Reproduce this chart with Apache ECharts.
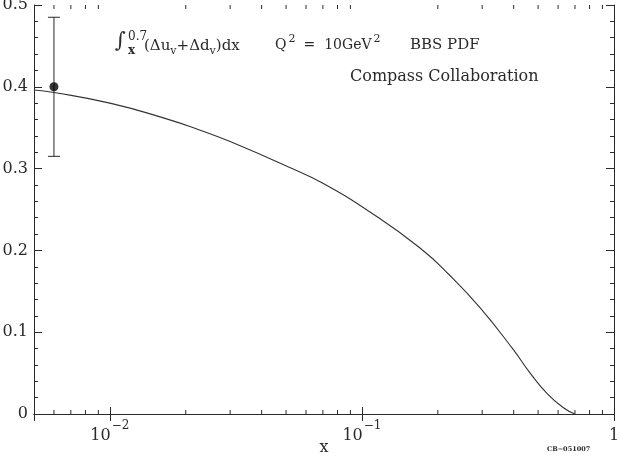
<!DOCTYPE html>
<html>
<head>
<meta charset="utf-8">
<script src="https://cdn.jsdelivr.net/npm/echarts@6/dist/echarts.min.js"></script>
<style>html,body{margin:0;padding:0;background:#fff}#c{width:619px;height:457px}</style>
</head>
<body>
<div id="c"></div>
<script>
// ---- data ----
const curveX = [0.005, 0.006, 0.01, 0.0163, 0.0228, 0.030, 0.052, 0.070, 0.1076, 0.170, 0.224, 0.294, 0.398, 0.465, 0.543, 0.628, 0.70];
const curveY = [0.396, 0.393, 0.380, 0.362, 0.347, 0.333, 0.301, 0.282, 0.247, 0.203, 0.169, 0.130, 0.079, 0.050, 0.025, 0.008, 0.0];
const pointX = [0.006];
const pointY = [0.400];
const errLow = [0.315];
const errHigh = [0.485];
const xMinorTicks = [0.006, 0.007, 0.008, 0.009, 0.02, 0.03, 0.04, 0.05, 0.06, 0.07, 0.08, 0.09, 0.2, 0.3, 0.4, 0.5, 0.6, 0.7, 0.8, 0.9];
const xTickLabels = { '-2': '{b|10}{p|−2}', '-1': '{b|10}{p|−1}', '0': '{b|1}' };
const yTickLabels = ['0', '0.1', '0.2', '0.3', '0.4', '0.5'];
const xRange = [0.005, 1];
const yRange = [0, 0.5];

const FONT = 'DejaVu Serif';
const INK = '#2a2a2a';

const chart = echarts.init(document.getElementById('c'), null, { renderer: 'canvas' });

function xFmt(v) {
  const lg = Math.log10(v);
  if (Math.abs(lg - Math.round(lg)) > 1e-6) return '';
  return xTickLabels[String(Math.round(lg))] || '';
}
function yFmt(v) {
  const i = Math.round(v * 10);
  return yTickLabels[i] !== undefined ? yTickLabels[i] : '';
}

const axisLineStyle = { lineStyle: { color: INK, width: 1 } };

const option = {
  animation: false,
  backgroundColor: '#fff',
  grid: { left: 34, right: 5, top: 5, bottom: 43, containLabel: false, outerBoundsMode: 'none' },
  xAxis: [
    {
      type: 'log', logBase: 10, min: xRange[0], max: xRange[1], position: 'bottom',
      axisLine: axisLineStyle,
      axisTick: { show: true, inside: true, length: 7, lineStyle: { color: INK } },
      splitLine: { show: false },
      axisLabel: {
        formatter: xFmt, showMinLabel: false, margin: 6, color: INK,
        fontFamily: FONT, fontSize: 16,
        rich: {
          b: { fontFamily: FONT, fontSize: 16, color: INK, lineHeight: 24, verticalAlign: 'bottom' },
          p: { fontFamily: FONT, fontSize: 12, color: INK, lineHeight: 24, verticalAlign: 'top', padding: [0, 0, 0, 1] }
        }
      },
      name: 'x', nameLocation: 'middle', nameGap: 26, nameMoveOverlap: false,
      nameTextStyle: { fontFamily: FONT, fontSize: 16, color: INK }
    },
    {
      type: 'log', logBase: 10, min: xRange[0], max: xRange[1], position: 'top',
      axisLine: axisLineStyle,
      axisTick: { show: true, inside: true, length: 7, lineStyle: { color: INK } },
      axisLabel: { show: false }, splitLine: { show: false }
    }
  ],
  yAxis: [
    {
      type: 'value', min: yRange[0], max: yRange[1], interval: 0.1, position: 'left',
      axisLine: { show: true, lineStyle: { color: INK, width: 1 } },
      axisTick: { show: true, inside: true, length: 8, lineStyle: { color: INK } },
      minorTick: { show: true, splitNumber: 5, length: 4, lineStyle: { color: INK } },
      splitLine: { show: false },
      axisLabel: { formatter: yFmt, margin: 6, color: INK, fontFamily: FONT, fontSize: 16 }
    },
    {
      type: 'value', min: yRange[0], max: yRange[1], interval: 0.1, position: 'right',
      axisLine: { show: true, lineStyle: { color: INK, width: 1 } },
      axisTick: { show: true, inside: true, length: 8, lineStyle: { color: INK } },
      minorTick: { show: true, splitNumber: 5, length: 4, lineStyle: { color: INK } },
      splitLine: { show: false },
      axisLabel: { show: false }
    }
  ],
  series: [
    {
      type: 'line', name: 'BBS', xAxisIndex: 0, yAxisIndex: 0,
      data: curveX.map((x, i) => [x, curveY[i]]),
      smooth: 0.5, showSymbol: false, symbol: 'none',
      lineStyle: { color: '#333', width: 1.1 }
    },
    {
      type: 'custom', name: 'minorTicks', xAxisIndex: 0, yAxisIndex: 0,
      data: xMinorTicks.map(v => [v, yRange[0]]),
      silent: true, clip: false,
      renderItem: function (params, api) {
        const x = api.value(0);
        const b = api.coord([x, yRange[0]]);
        const t = api.coord([x, yRange[1]]);
        const st = { stroke: INK, lineWidth: 1 };
        return {
          type: 'group', children: [
            { type: 'line', shape: { x1: b[0], y1: b[1], x2: b[0], y2: b[1] - 4 }, style: st },
            { type: 'line', shape: { x1: t[0], y1: t[1], x2: t[0], y2: t[1] + 4 }, style: st }
          ]
        };
      }
    },
    {
      type: 'custom', name: 'errorbar', xAxisIndex: 0, yAxisIndex: 0,
      data: pointX.map((x, i) => [x, errLow[i], errHigh[i]]),
      silent: true,
      renderItem: function (params, api) {
        const x = api.value(0);
        const lo = api.coord([x, api.value(1)]);
        const hi = api.coord([x, api.value(2)]);
        const st = { stroke: INK, lineWidth: 1 };
        return {
          type: 'group', children: [
            { type: 'line', shape: { x1: lo[0], y1: lo[1], x2: hi[0], y2: hi[1] }, style: st },
            { type: 'line', shape: { x1: lo[0] - 6, y1: lo[1], x2: lo[0] + 6, y2: lo[1] }, style: st },
            { type: 'line', shape: { x1: hi[0] - 6, y1: hi[1], x2: hi[0] + 6, y2: hi[1] }, style: st }
          ]
        };
      }
    },
    {
      type: 'scatter', name: 'Compass', xAxisIndex: 0, yAxisIndex: 0,
      data: pointX.map((x, i) => [x, pointY[i]]),
      symbol: 'circle', symbolSize: 9,
      itemStyle: { color: '#000' }
    }
  ],
  graphic: [
    { type: 'text', left: 115, top: 31, style: { text: '∫', font: '21px "' + FONT + '"', fill: INK } },
    { type: 'text', left: 128, top: 31, style: { text: '0.7', font: '12px "' + FONT + '"', fill: INK } },
    { type: 'text', left: 128, top: 45, style: { text: 'x', font: 'bold 12px "' + FONT + '"', fill: INK } },
    {
      type: 'text', left: 144, top: 36,
      style: {
        text: '(Δu{s|v}+Δd{s|v})dx', font: '15px "' + FONT + '"', fill: INK, lineHeight: 21,
        rich: { s: { fontFamily: FONT, fontSize: 11, fill: INK, lineHeight: 12, verticalAlign: 'bottom' } }
      }
    },
    {
      type: 'text', left: 275, top: 34,
      style: {
        text: 'Q{p|2}{e|=}10GeV{p|2}', font: '14px "' + FONT + '"', fill: INK, lineHeight: 22,
        rich: {
          p: { fontFamily: FONT, fontSize: 11, fill: INK, lineHeight: 12, verticalAlign: 'top', padding: [0, 0, 0, 2] },
          e: { fontFamily: FONT, fontSize: 14, fill: INK, padding: [0, 9, 0, 8] }
        }
      }
    },
    { type: 'text', left: 410, top: 38, style: { text: 'BBS PDF', font: '15px "' + FONT + '"', fill: INK } },
    { type: 'text', left: 350, top: 69, style: { text: 'Compass Collaboration', font: '16px "' + FONT + '"', fill: INK } },
    { type: 'text', left: 547, top: 446, style: { text: 'CB−051007', font: 'bold 6.5px "' + FONT + '"', fill: INK } }
  ]
};
chart.setOption(option);
</script>
</body>
</html>
